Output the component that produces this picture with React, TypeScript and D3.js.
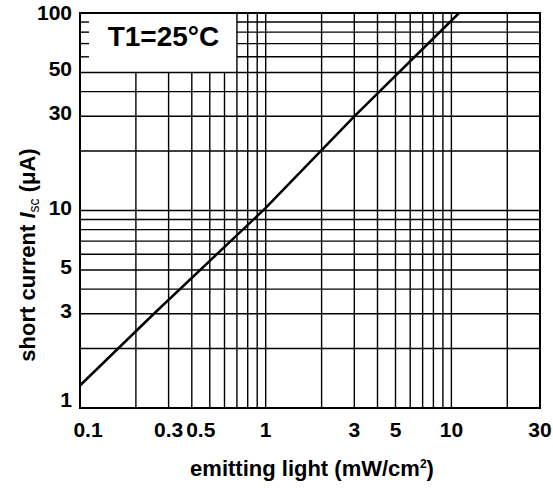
import React, { useEffect, useRef } from 'react';
import * as d3 from 'd3';

// values
const curveX = [0.1, 0.25, 1, 3, 11];
const curveY = [1.3, 3, 10.3, 30, 100];

const xGrid = [0.2, 0.3, 0.4, 0.5, 0.6, 0.7, 0.8, 0.9, 1, 2, 3, 4, 5, 6, 7, 8, 9, 10, 20];
const yGrid = [2, 3, 4, 5, 6, 7, 8, 9, 10, 20, 30, 40, 50, 60, 70, 80, 90];
const xTicks = [0.1, 0.3, 0.5, 1, 3, 5, 10, 30];
const xTickNudge = [8, 0, -9, 0, 0, 0, 0, 0];
const yTicks = [1, 3, 5, 10, 30, 50, 100];
const yTickNudge = [-1, 4, 4, 4, 4, 4, 7];

const App = () => {
    const svgRef = useRef(null);

    useEffect(() => {
        const width = 553;
        const height = 488;
        const margin = { top: 13, right: 13, bottom: 80, left: 80 };
        const font = '"Liberation Sans", Arial, sans-serif';

        d3.select(svgRef.current).selectAll("*").remove();
        const svg = d3.select(svgRef.current)
            .attr("width", width)
            .attr("height", height);

        svg.append("rect").attr("width", width).attr("height", height).attr("fill", "#fff");

        const x = d3.scaleLog().domain([0.1, 30]).range([margin.left, width - margin.right]);
        const y = d3.scaleLog().domain([1, 100]).range([height - margin.bottom, margin.top]);

        // legend box corner: up to 0.7 on x, down to 50 on y
        const boxX = x(0.7);
        const boxY = y(50);

        // vertical grid
        xGrid.forEach(v => {
            svg.append("line")
                .attr("x1", x(v)).attr("x2", x(v))
                .attr("y1", v < 0.7 ? boxY : y(100))
                .attr("y2", y(1))
                .attr("stroke", "#000")
                .attr("stroke-width", 1.4);
        });

        // horizontal grid
        yGrid.forEach(v => {
            svg.append("line")
                .attr("x1", v > 50 ? boxX : x(0.1))
                .attr("x2", x(30))
                .attr("y1", y(v)).attr("y2", y(v))
                .attr("stroke", "#000")
                .attr("stroke-width", 1.4);
            if (v > 50) {
                // small stubs on the left edge inside the legend box
                svg.append("line")
                    .attr("x1", x(0.1)).attr("x2", x(0.1) + 9)
                    .attr("y1", y(v)).attr("y2", y(v))
                    .attr("stroke", "#000")
                    .attr("stroke-width", 1.4);
            }
        });

        // frame
        svg.append("rect")
            .attr("x", x(0.1)).attr("y", y(100))
            .attr("width", x(30) - x(0.1)).attr("height", y(1) - y(100))
            .attr("fill", "none")
            .attr("stroke", "#000")
            .attr("stroke-width", 2);

        // curve
        const pts = curveX.map((v, i) => [v, curveY[i]]);
        svg.append("path")
            .datum(pts)
            .attr("d", d3.line().x(d => x(d[0])).y(d => y(d[1])))
            .attr("fill", "none")
            .attr("stroke", "#000")
            .attr("stroke-width", 2.5);

        // legend text
        svg.append("text")
            .attr("x", (x(0.1) + boxX) / 2 + 5)
            .attr("y", boxY - 26)
            .attr("text-anchor", "middle")
            .attr("font-family", font)
            .attr("font-weight", "bold")
            .attr("font-size", 28)
            .text("T1=25°C");

        // tick labels
        xTicks.forEach((v, i) => {
            svg.append("text")
                .attr("x", x(v) + xTickNudge[i])
                .attr("y", y(1) + 29)
                .attr("text-anchor", "middle")
                .attr("font-family", font)
                .attr("font-weight", "bold")
                .attr("font-size", 21)
                .text(v);
        });
        yTicks.forEach((v, i) => {
            svg.append("text")
                .attr("x", margin.left - 8)
                .attr("y", y(v) + yTickNudge[i])
                .attr("text-anchor", "end")
                .attr("font-family", font)
                .attr("font-weight", "bold")
                .attr("font-size", 21)
                .text(v);
        });

        // axis titles
        const xt = svg.append("text")
            .attr("x", 312)
            .attr("y", 476)
            .attr("text-anchor", "middle")
            .attr("font-family", font)
            .attr("font-weight", "bold")
            .attr("font-size", 22);
        xt.append("tspan").text("emitting light (mW/cm");
        xt.append("tspan").attr("dy", -8).attr("font-size", 12).text("2");
        xt.append("tspan").attr("dy", 8).text(")");

        const yt = svg.append("text")
            .attr("transform", "translate(35,255) rotate(-90)")
            .attr("text-anchor", "middle")
            .attr("font-family", font)
            .attr("font-weight", "bold")
            .attr("font-size", 22);
        yt.append("tspan").text("short current ");
        yt.append("tspan").attr("font-style", "italic").text("I");
        yt.append("tspan").attr("dy", 4).attr("font-size", 14).attr("font-weight", "normal").text("sc");
        yt.append("tspan").attr("dy", -4).text(" (μA)");
    }, []);

    return (
        <svg ref={svgRef} style={{ position: 'absolute', left: 0, top: 0 }}></svg>
    );
};

export default App;
